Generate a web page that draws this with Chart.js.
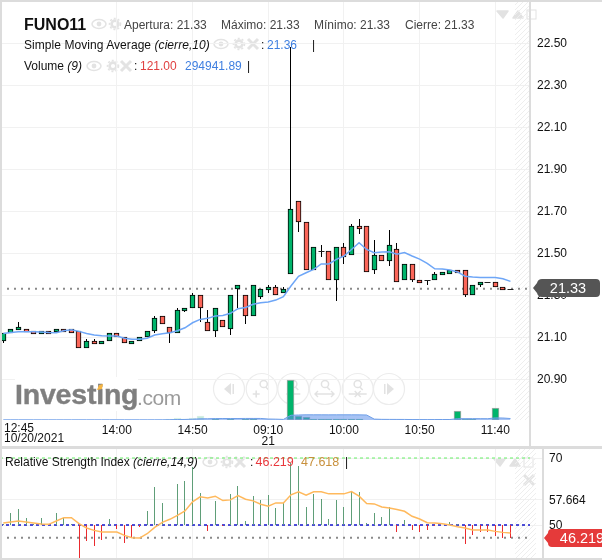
<!DOCTYPE html>
<html><head><meta charset="utf-8">
<style>
html,body{margin:0;padding:0;background:#fff;width:602px;height:560px;overflow:hidden;font-family:"Liberation Sans",Arial,sans-serif;}
#wrap{position:relative;width:602px;height:560px;overflow:hidden;}
canvas{position:absolute;left:0;}
.t{position:absolute;white-space:nowrap;font-size:12px;line-height:14px;color:#111;}
.g{color:#444;}
.tag{position:absolute;color:#fff;text-align:center;font-size:14.5px;line-height:18px;}
.bar{position:absolute;background:#dcdcdc;}
</style></head><body><div id="wrap">
<svg id="deco" width="602" height="560" style="position:absolute;left:0;top:0"></svg>
<canvas id="main" width="602" height="449" style="top:0"></canvas>
<canvas id="rsi" width="602" height="111" style="top:449px"></canvas>
<div class="t" style="left:15px;top:377px;font-size:28.5px;line-height:34px;font-weight:bold;color:#7f7f7f;letter-spacing:-.2px;-webkit-text-stroke:.4px #7f7f7f;background:#fff">Investing</div>
<div class="t" style="left:137px;top:385px;font-size:21px;line-height:26px;color:#9b9b9b;letter-spacing:-.4px">.com</div>
<svg width="602" height="560" style="position:absolute;left:0;top:0;pointer-events:none"><path d="M97 390 L99 385 L103 384 L102 389 Z" fill="#f5b544"/></svg>
<div class="bar" style="left:0;top:0;width:602px;height:2px"></div>
<div class="bar" style="left:0;top:0;width:2px;height:560px"></div>
<div class="bar" style="left:0;top:446px;width:602px;height:3px"></div>
<div class="bar" style="left:529px;top:0;width:2px;height:446px"></div>
<div class="bar" style="left:542px;top:449px;width:2px;height:111px"></div>
<div class="bar" style="left:0;top:558px;width:602px;height:2px"></div>

<div class="t" style="left:24px;top:15px;font-size:16px;line-height:20px;font-weight:bold;color:#111">FUNO11</div>
<div class="t g" style="left:124px;top:18px">Apertura: 21.33</div>
<div class="t g" style="left:221px;top:18px">Máximo: 21.33</div>
<div class="t g" style="left:314px;top:18px">Mínimo: 21.33</div>
<div class="t g" style="left:405px;top:18px">Cierre: 21.33</div>
<div class="t" style="left:24px;top:38px;letter-spacing:.06px">Simple Moving Average <i>(cierre,10)</i></div>
<div class="t" style="left:261px;top:38px">:</div>
<div class="t" style="left:267px;top:38px;color:#3f7fe0">21.36</div>
<div class="t" style="left:312px;top:38px">|</div>
<div class="t" style="left:24px;top:59px">Volume <i>(9)</i></div>
<div class="t" style="left:134px;top:59px">:</div>
<div class="t" style="left:140px;top:59px;color:#e04040">121.00</div>
<div class="t" style="left:185px;top:59px;color:#3f7fe0">294941.89</div>
<div class="t" style="left:247px;top:59px">|</div>
<div class="t" style="left:5px;top:455px">Relative Strength Index <i>(cierre,14,9)</i></div>
<div class="t" style="left:250px;top:455px">:</div>
<div class="t" style="left:255.5px;top:455px;font-size:12.5px;color:#e9373c">46.219</div>
<div class="t" style="left:301px;top:455px;font-size:12.5px;color:#c8903c">47.618</div>
<div class="t" style="left:345px;top:455px">|</div>
<svg width="602" height="560" style="position:absolute;left:0;top:0;pointer-events:none">
  <path d="M533 288 L537 283 Q538 279 542 279 H596 Q600 279 600 283 V293 Q600 297 596 297 H542 Q538 297 537 293 Z" fill="#555"/>
  <path d="M544 538 L548 533 Q548 529 552 529 H602 V547 H552 Q548 547 548 543 Z" fill="#e53a3a"/>
</svg>
<div class="tag" style="left:538px;top:279px;width:60px">21.33</div>
<div class="tag" style="left:552px;top:529px;width:60px;font-weight:normal">46.219</div>
</div>
<script src="https://cdn.jsdelivr.net/npm/chart.js"></script>
<script>
const priceOpen=[21.08,21.12,21.14,21.14,21.13,21.12,21.13,21.13,21.14,21.14,21.13,21.05,21.08,21.07,21.08,21.12,21.10,21.07,21.08,21.10,21.13,21.20,21.15,21.12,21.23,21.24,21.30,21.17,21.13,21.18,21.14,21.33,21.30,21.20,21.29,21.33,21.34,21.31,21.40,21.75,21.65,21.42,21.51,21.51,21.37,21.53,21.49,21.63,21.63,21.42,21.49,21.46,21.52,21.37,21.45,21.37,21.37,21.37,21.40,21.40,21.42,21.42,21.30,21.35,21.36,21.36,21.34,21.33];
const priceHigh=[21.12,21.14,21.17,21.14,21.13,21.13,21.13,21.14,21.14,21.14,21.13,21.09,21.09,21.08,21.12,21.12,21.10,21.08,21.10,21.13,21.20,21.20,21.15,21.24,21.24,21.31,21.30,21.23,21.24,21.18,21.30,21.35,21.30,21.35,21.33,21.35,21.35,21.34,22.48,21.75,21.65,21.53,21.54,21.51,21.53,21.55,21.64,21.66,21.63,21.56,21.49,21.61,21.55,21.45,21.45,21.37,21.37,21.41,21.41,21.42,21.42,21.42,21.35,21.36,21.36,21.36,21.34,21.33];
const priceLow=[21.07,21.12,21.14,21.13,21.12,21.12,21.12,21.13,21.13,21.12,21.05,21.05,21.07,21.07,21.08,21.10,21.07,21.07,21.08,21.10,21.12,21.16,21.07,21.12,21.22,21.24,21.17,21.13,21.10,21.15,21.11,21.24,21.16,21.20,21.28,21.31,21.30,21.31,21.40,21.60,21.42,21.42,21.48,21.37,21.27,21.45,21.49,21.59,21.41,21.40,21.46,21.44,21.36,21.37,21.36,21.36,21.35,21.37,21.40,21.40,21.41,21.29,21.30,21.34,21.36,21.34,21.33,21.33];
const priceClose=[21.12,21.14,21.15,21.13,21.12,21.13,21.12,21.14,21.13,21.12,21.05,21.08,21.07,21.08,21.12,21.10,21.07,21.08,21.10,21.13,21.19,21.16,21.12,21.23,21.24,21.30,21.24,21.13,21.24,21.15,21.30,21.35,21.20,21.35,21.33,21.34,21.30,21.33,21.71,21.65,21.42,21.53,21.51,21.37,21.53,21.48,21.63,21.62,21.41,21.49,21.46,21.54,21.36,21.45,21.37,21.36,21.37,21.40,21.41,21.42,21.41,21.30,21.35,21.36,21.36,21.34,21.33,21.33];
const smaClose=[21.117,21.122,21.125,21.125,21.125,21.124,21.122,21.121,21.130,21.135,21.127,21.117,21.110,21.106,21.105,21.105,21.094,21.090,21.090,21.094,21.110,21.116,21.121,21.130,21.144,21.168,21.184,21.189,21.200,21.203,21.213,21.235,21.241,21.256,21.263,21.267,21.276,21.292,21.343,21.389,21.406,21.422,21.448,21.448,21.470,21.486,21.517,21.549,21.517,21.502,21.505,21.506,21.494,21.502,21.486,21.471,21.451,21.425,21.424,21.419,21.410,21.390,21.386,21.384,21.383,21.383,21.378,21.365];
const volumeValues=[30000,20000,40000,20000,15000,20000,15000,25000,20000,30000,70000,30000,25000,20000,30000,25000,30000,20000,25000,30000,60000,70000,200000,400000,150000,500000,800000,100000,120000,60000,150000,90000,110000,130000,70000,50000,40000,50000,8000000,900000,600000,300000,150000,300000,300000,120000,200000,150000,100000,80000,60000,70000,60000,40000,100000,30000,20000,50000,40000,60000,1800000,200000,120000,40000,20000,2400000,30000,121];
const volumeSma=[30000,30000,30000,30000,28000,28000,26000,26000,26000,26000,30000,30000,30000,30000,32000,32000,32000,30000,30000,30000,36000,40000,58000,95000,110000,160000,240000,250000,290000,300000,300000,300000,310000,310000,310000,200000,170000,120000,950000,1000000,1040000,1040000,1040000,1030000,1040000,1040000,1040000,1030000,1000000,180000,130000,120000,115000,110000,90000,85000,80000,90000,95000,100000,260000,270000,275000,270000,260000,420000,400000,294941.89];
const rsiValues=[50.4,53.6,54.8,52.1,50.4,52.1,50.4,53.6,52.1,50.2,40.1,45.1,43.6,45.4,51.8,48.8,44.5,46.1,49.3,54.2,61.3,56.6,50.2,62.2,63.1,67.3,59.6,48.1,57.1,49.6,59.3,61.5,51.3,58.6,57.6,58.9,55.1,56.6,68.5,67.6,55.4,59.3,57.8,51.8,57.6,55.4,60.0,59.8,50.6,53.6,52.4,55.4,47.8,51.6,48.4,47.8,48.4,49.6,49.9,51.0,50.4,44.4,47.1,47.8,47.8,46.6,46.1,46.219];
const rsiSignal=[50.6,50.9,51.2,50.9,50.6,50.3,50.2,51.2,52.2,52.2,50.4,49.1,48.4,47.9,47.9,47.9,46.9,46.2,46.1,47.4,49.3,50.8,51.7,52.9,54.2,56.9,58.4,58.1,58.6,57.3,57.5,58.8,57.7,57.2,56.2,55.6,56.6,56.6,59.0,59.9,58.9,59.9,59.9,59.3,59.3,59.3,60.0,58.6,56.4,56.3,55.4,55.1,54.6,54.1,52.6,51.8,50.7,50.6,50.4,50.0,49.5,49.1,48.5,48.5,48.5,48.1,47.8,47.618];
const priceTicks=[22.5,22.3,22.1,21.9,21.7,21.5,21.3,21.1,20.9];
const timeTickIndex=[15,25,35,45,55,65];
const timeTickLabels=['14:00','14:50',['09:10','21'],'10:00','10:50','11:40'];
const firstTimeLabels=['12:45','10/20/2021'];
const rsiTicks=[70,57.664,50];
const lastClose=21.33, rsiLast=46.219, rsiUpper=70, rsiMid=50;

const GREEN='#00b46b',RED='#fb6659',GRID='#f1f1f1';
const xMinVal=-0.436, xMaxMain=69.58, xMaxRsi=71.16, xEndLines=69.58;
const idx=priceOpen.map((_,i)=>i);
const dojiIdx=idx.filter(i=>priceOpen[i]===priceClose[i]);
function noPad(s){s.paddingTop=s.paddingBottom=s.paddingLeft=s.paddingRight=0;}

/* snaps the library's bar rectangles to whole pixels, so that thin marks stay crisp */
const snap={id:'snap',beforeDatasetDraw(c,args){
  const m=args.meta,label=c.data.datasets[args.index].label;
  if(m.type==='bar'){
    m.data.forEach(el=>{
      el.x=Math.floor(el.x)+.5;
      if(el.y==null||isNaN(el.y))return;
      const up=el.y<=el.base;
      el.y=Math.round(el.y);el.base=Math.round(el.base);
      if(label==='Body'&&Math.abs(el.base-el.y)<3&&Math.abs(el.base-el.y)>0){el.base=up?el.y+3:el.y-3;}
    });
  } else if(label==='Doji'){m.data.forEach(el=>{el.y=Math.round(el.y)+.5;el.x=Math.floor(el.x)+.5;});}
}};
const hatch={id:'hatch',beforeDatasetsDraw(c,a,o){
  const {top,bottom,right}=c.chartArea,l=o.left||right-15,r=o.right||right,x=c.ctx;
  x.save();x.beginPath();x.rect(l,top,r-l,bottom-top);x.clip();x.strokeStyle='#eeeeee';x.lineWidth=1;
  for(let s=l-(bottom-top);s<r+(bottom-top);s+=5){x.beginPath();x.moveTo(s,bottom);x.lineTo(s+(bottom-top),top);x.stroke();}
  x.restore();}};
const firstLabels={id:'firstLabels',afterDraw(c){const x=c.ctx;x.save();x.font='12px "Liberation Sans",Arial';x.fillStyle='#111';x.textBaseline='middle';x.textAlign='left';
  x.fillText(firstTimeLabels[0],4,429);x.fillText(firstTimeLabels[1],4,439);x.restore();}};

function xScale(max,show){return {type:'linear',min:xMinVal,max:max,offset:false,
  grid:{color:GRID,offset:false,drawTicks:false},border:{display:false},
  afterBuildTicks(s){s.ticks=timeTickIndex.map(v=>({value:v}));},
  afterFit(s){s.height=show?29:0;noPad(s);},
  ticks:{display:show,autoSkip:false,maxRotation:0,padding:5,color:'#111',font:{size:12,family:'"Liberation Sans",Arial',lineHeight:0.9},
    callback(v){return timeTickLabels[timeTickIndex.indexOf(v)];}}};}

new Chart(document.getElementById('main'),{type:'bar',
 data:{datasets:[
  {type:'bar',label:'Volume',yAxisID:'v',order:7,grouped:false,barThickness:7,borderWidth:1,borderSkipped:false,
   data:idx.map(i=>({x:i,y:volumeValues[i]})),
   backgroundColor:idx.map(i=>(i>=22&&i<=26)?'#c6ebdc':GREEN),
   borderColor:idx.map(i=>(i>=22&&i<=26)?'#d8efe6':'#aaaaaa')},
  {type:'line',label:'Vol SMA',yAxisID:'v',order:6,data:idx.map(i=>({x:i,y:volumeSma[i]})),borderColor:'#6f9fe8',borderWidth:1,backgroundColor:'rgba(95,145,235,.55)',fill:'origin',pointRadius:0,tension:0},
  {type:'line',label:'Last',order:5,data:[{x:xMinVal,y:lastClose},{x:xEndLines,y:lastClose}],borderColor:'#8a8a8a',borderWidth:2,borderDash:[2,5],pointRadius:0},
  {type:'bar',label:'Wick',order:4,grouped:false,barThickness:1,borderWidth:0,inflateAmount:0,backgroundColor:'#000',data:idx.map(i=>({x:i,y:[priceLow[i],priceHigh[i]]}))},
  {type:'bar',label:'Body',order:3,grouped:false,barThickness:5,borderWidth:1,borderSkipped:false,borderColor:'#000',
   data:idx.map(i=>({x:i,y:[priceOpen[i],priceClose[i]]})),
   backgroundColor:idx.map(i=>priceClose[i]>priceOpen[i]?GREEN:RED)},
  {type:'line',label:'Doji',order:2,showLine:false,pointStyle:'line',pointRadius:3,pointBorderColor:'#222',pointBorderWidth:1,data:dojiIdx.map(i=>({x:i,y:priceClose[i]}))},
  {type:'line',label:'SMA',order:1,data:idx.map(i=>({x:i,y:smaClose[i]})),borderColor:'#6ea6f7',borderWidth:1.5,pointRadius:0,tension:0}
 ]},
 options:{responsive:false,animation:false,devicePixelRatio:1,layout:{padding:0,autoPadding:false},
  plugins:{legend:{display:false},tooltip:{enabled:false},hatch:{}},
  scales:{x:xScale(xMaxMain,true),
   y:{position:'right',min:20.705,max:22.705,grid:{color:GRID,drawTicks:false},border:{display:false},
      afterBuildTicks(s){s.ticks=priceTicks.map(v=>({value:v}));},afterFit(s){s.width=72;noPad(s);},
      ticks:{padding:7,labelOffset:1,color:'#111',autoSkip:false,font:{size:12,family:'"Liberation Sans",Arial'},callback:v=>v.toFixed(2)}},
   v:{display:false,min:0,max:84000000}}},
 plugins:[hatch,firstLabels,snap]});

new Chart(document.getElementById('rsi'),{type:'bar',
 data:{datasets:[
  {type:'line',label:'70',order:5,data:[{x:xMinVal,y:rsiUpper},{x:xEndLines,y:rsiUpper}],borderColor:'#66ee66',borderWidth:1,borderDash:[3,3],pointRadius:0},
  {type:'line',label:'50',order:4,data:[{x:xMinVal,y:rsiMid},{x:xEndLines,y:rsiMid}],borderColor:'#1414cc',borderWidth:1.5,borderDash:[3,3],pointRadius:0},
  {type:'line',label:'Last',order:3,data:[{x:xMinVal,y:rsiLast},{x:xEndLines,y:rsiLast}],borderColor:'#8a8a8a',borderWidth:2,borderDash:[2,5],pointRadius:0},
  {type:'bar',label:'RSI',order:2,grouped:false,barThickness:1,borderWidth:0,inflateAmount:0,data:idx.map(i=>({x:i,y:[rsiMid,rsiValues[i]]})),
   backgroundColor:idx.map(i=>rsiValues[i]>=rsiMid?'#5f9e78':'#ea2a2e')},
  {type:'line',label:'Signal',order:1,data:idx.map(i=>({x:i,y:rsiSignal[i]})),borderColor:'#ffb95c',borderWidth:1.5,pointRadius:0,tension:0}
 ]},
 options:{responsive:false,animation:false,devicePixelRatio:1,layout:{padding:{bottom:2},autoPadding:false},
  plugins:{legend:{display:false},tooltip:{enabled:false},hatch:{left:515,right:536}},
  scales:{x:xScale(xMaxRsi,false),
   y:{position:'right',min:40.15,max:72.69,grid:{color:GRID,drawTicks:false},border:{display:false},
      afterBuildTicks(s){s.ticks=rsiTicks.map(v=>({value:v}));},afterFit(s){s.width=60;noPad(s);},
      ticks:{padding:7,labelOffset:1,color:'#111',autoSkip:false,font:{size:12,family:'"Liberation Sans",Arial'},callback:v=>String(v)}}}},
 plugins:[hatch,snap]});

/* faint toolbar and legend icons */
const C='#e3e3e3';
function eye(x,y){return `<ellipse cx="${x}" cy="${y}" rx="7" ry="4.5" fill="none" stroke="${C}" stroke-width="1.5"/><circle cx="${x}" cy="${y}" r="2.4" fill="${C}"/>`;}
function gear(x,y){return `<circle cx="${x}" cy="${y}" r="3.4" fill="none" stroke="${C}" stroke-width="2.6"/><circle cx="${x}" cy="${y}" r="5.5" fill="none" stroke="${C}" stroke-width="1.6" stroke-dasharray="2 2"/>`;}
function cross(x,y){return `<path d="M${x-5} ${y-5}L${x+5} ${y+5}M${x+5} ${y-5}L${x-5} ${y+5}" stroke="${C}" stroke-width="3"/>`;}
function tools(x,y){return `<path d="M${x-6} ${y-3}H${x+5}L${x} ${y+4}Z" fill="#e2e2e2" stroke="#e2e2e2" stroke-width="1.5" stroke-linejoin="round"/><path d="M${x+10} ${y+4}L${x+15} ${y-3}L${x+20} ${y+4}Z" fill="#e2e2e2" stroke="#e2e2e2" stroke-width="1.5" stroke-linejoin="round"/><rect x="${x+24}" y="${y-4}" width="9" height="9" fill="none" stroke="#e2e2e2"/>`;}
const B='#ececec',I='#e2e2e2';
function btn(x,y,inner){return `<circle cx="${x}" cy="${y}" r="15.5" fill="#fff" fill-opacity=".6" stroke="${B}" stroke-width="1.2"/>${inner(x,y)}`;}
function mag(x,y){return `<circle cx="${x+1}" cy="${y-5}" r="3.6" fill="none" stroke="${I}" stroke-width="1.5"/><path d="M${x+3} ${y-2}L${x+6} ${y+1}" stroke="${I}" stroke-width="1.5"/>`;}
let s='';
s+=eye(99,24)+gear(115,24);
s+=eye(221,44)+gear(239,44)+cross(253,44);
s+=eye(94,66)+gear(113,66)+cross(126,66);
s+=eye(210,462)+gear(227,462)+cross(240,462);
s+=tools(503,14)+tools(500,462)+cross(529,480);
s+=btn(229,389,(x,y)=>`<path d="M${x-5} ${y}L${x+2} ${y-6}V${y+6}Z" fill="${I}"/><rect x="${x+3.5}" y="${y-5}" width="1.5" height="10" fill="${I}"/>`);
s+=btn(261.7,389,(x,y)=>mag(x+1,y)+`<path d="M${x-9} ${y+5}H${x-2}M${x-5.5} ${y+1.5}V${y+8.5}" stroke="${I}" stroke-width="1.6"/>`);
s+=btn(293.3,389,(x,y)=>mag(x-1,y)+`<path d="M${x-7} ${y+5}H${x+7}" stroke="${I}" stroke-width="1.6"/>`);
s+=btn(325,389,(x,y)=>mag(x-1,y)+`<path d="M${x-10} ${y+5}H${x+9}M${x-7} ${y+2}L${x-10} ${y+5}L${x-7} ${y+8}M${x+6} ${y+2}L${x+9} ${y+5}L${x+6} ${y+8}" fill="none" stroke="${I}" stroke-width="1.4"/>`);
s+=btn(357.7,389,(x,y)=>mag(x-1,y)+`<path d="M${x-9} ${y+5}H${x+9}M${x-3} ${y+2}L${x} ${y+5}L${x-3} ${y+8}M${x+3} ${y+2}L${x} ${y+5}L${x+3} ${y+8}" fill="none" stroke="${I}" stroke-width="1.4"/>`);
s+=btn(389,389,(x,y)=>`<path d="M${x+5} ${y}L${x-2} ${y-6}V${y+6}Z" fill="${I}"/><rect x="${x-5}" y="${y-5}" width="1.5" height="10" fill="${I}"/>`);
document.getElementById('deco').innerHTML=s;
</script></body></html>
